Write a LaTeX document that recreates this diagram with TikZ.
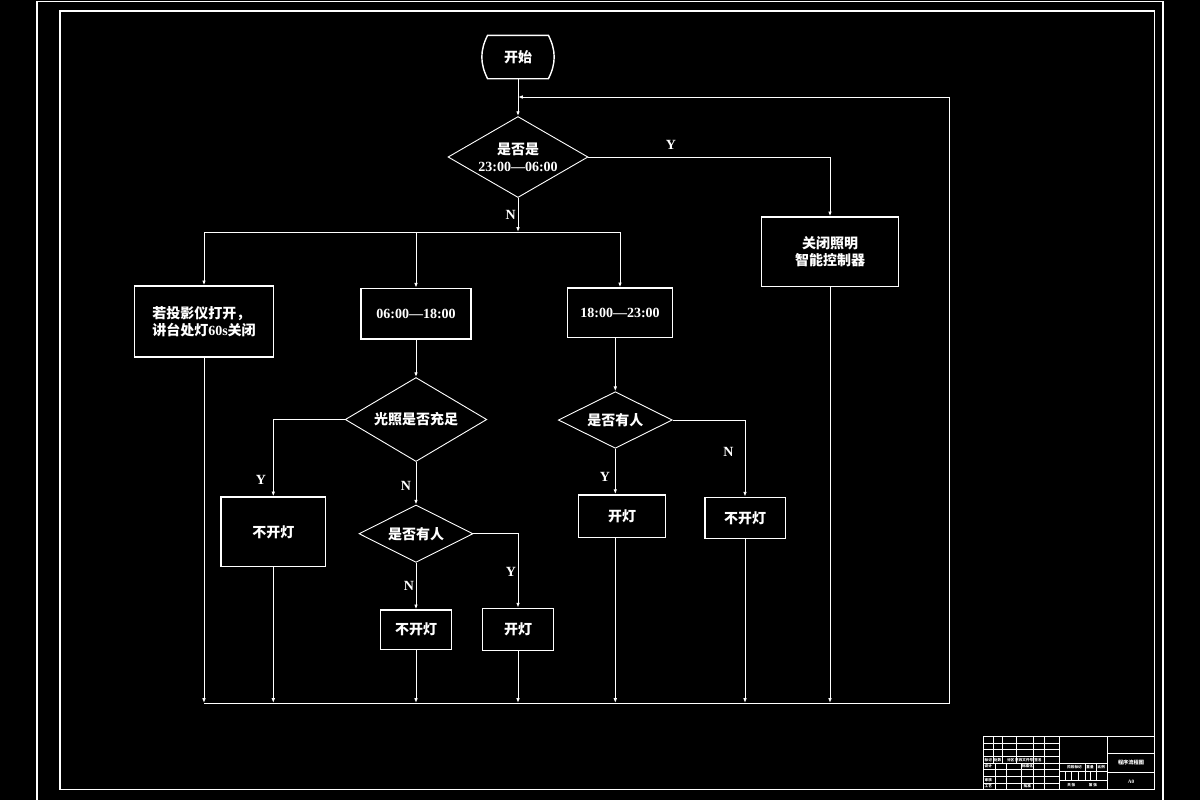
\documentclass[tikz,border=0pt]{standalone}
\usepackage{fontspec}
\setmainfont{Liberation Serif}
\newfontfamily\cjkfam{Noto Sans CJK SC}
\newcommand\cjk{\cjkfam\bfseries}
\usetikzlibrary{arrows.meta,shapes.geometric}
\newcommand\fz{\fontsize{7}{8.5}\selectfont\bfseries}
\newcommand\fzt{\fontsize{1.8}{2}\selectfont}

\tikzset{
	box/.style={draw=white, line width=0.7pt, text=white, inner sep=0pt, align=center, font=\fz},
	decision/.style={diamond, draw=white, line width=0.45pt, text=white, inner sep=0pt, align=center, font=\fz},
	flow/.style={draw=white, line width=0.5pt},
	arr/.style={flow, -{Latex[length=2.4pt,width=1.8pt]}},
	tag/.style={text=white, font=\fz, inner sep=0pt},
	frame/.style={draw=white, line width=0.75pt},
	grid/.style={draw=white, line width=0.4pt},
	tbtext/.style={text=white, font=\fzt\cjk, inner sep=0pt}
}

\begin{document}
\begin{tikzpicture}[x=0.5pt, y=-0.5pt]
			%%%%% START %%%%%
			\useasboundingbox (0, 0) rectangle (1200, 800);
			\fill[black] (0, 0) rectangle (1200, 800);
			
			\draw[frame] (37, 1.5) rectangle (1163, 812);
			\draw[frame] (60, 11) rectangle (1154.5, 789.5);
			
			% start and first question
			\node[box, draw=none, minimum width=29.7pt, minimum height=21pt] (start) at (518, 57) {\cjk 开始};
			\draw[box] (start.north west) -- (start.north east) to[bend left=27] (start.south east) -- (start.south west) to[bend left=27] (start.north west) -- cycle;
			\node[decision, aspect=1.73, minimum width=70pt, minimum height=40.5pt] (dTime) at (518, 157) {{\cjk 是否是}\\23:00—06:00};
			
			% boxes
			\node[box, minimum width=69.5pt, minimum height=35.5pt, align=left] (bLecture) at (204, 321.5) {\fontsize{7}{10}\selectfont{\cjk 若投影仪打开，}\\{\cjk 讲台处灯}60s{\cjk 关闭}};
			\node[box, minimum width=55pt, minimum height=25.3pt] (bDay) at (416, 313.7) {06:00—18:00};
			\node[box, minimum width=52.7pt, minimum height=24.7pt] (bEve) at (620, 312.7) {18:00—23:00};
			\node[box, minimum width=68.7pt, minimum height=34.8pt] (bClose) at (830, 251.8) {\fontsize{7}{9.3}\selectfont{\cjk 关闭照明}\\{\cjk 智能控制器}};
			
			\node[decision, aspect=1.69, minimum width=70.8pt, minimum height=42pt] (dLight) at (416, 419.5) {\cjk 光照是否充足};
			\node[box, minimum width=52.3pt, minimum height=34.8pt] (bNoA) at (273.3, 531.8) {\cjk 不开灯};
			\node[decision, aspect=2, minimum width=57pt, minimum height=28.7pt] (dPeopleA) at (416, 533.7) {\cjk 是否有人};
			\node[box, minimum width=35.5pt, minimum height=19.7pt] (bNoB) at (416, 629.7) {\cjk 不开灯};
			\node[box, minimum width=35.5pt, minimum height=21pt] (bOnA) at (518, 629.3) {\cjk 开灯};
			
			\node[decision, aspect=2, minimum width=57pt, minimum height=28.3pt] (dPeopleB) at (615.3, 420) {\cjk 是否有人};
			\node[box, minimum width=43.7pt, minimum height=21.2pt] (bOnB) at (622, 516) {\cjk 开灯};
			\node[box, minimum width=40.2pt, minimum height=20.5pt] (bNoC) at (745, 517.8) {\cjk 不开灯};
			
			% Y / N
			\node[tag] (tY1) at (671, 145) {Y};
			\node[tag] (tN1) at (510.7, 215) {N};
			\node[tag] (tY2) at (261, 480) {Y};
			\node[tag] (tN2) at (406, 486) {N};
			\node[tag] (tN3) at (409, 586) {N};
			\node[tag] (tY3) at (511, 571.7) {Y};
			\node[tag] (tY4) at (605, 477.3) {Y};
			\node[tag] (tN4) at (728.3, 452.3) {N};
			
			% connectors
			\coordinate (busTop) at (518, 232);
			\coordinate (splitL) at (204, 232);
			\coordinate (splitR) at (620, 232);
			\coordinate (joinL) at (204, 703);
			\coordinate (joinR) at (949, 703);
			\coordinate (loopTop) at (949, 97);
			\coordinate (loopIn) at (518, 97);
			
			\draw[arr] (start) -- (dTime);
			\draw[arr] (dTime) -- (busTop);
			\draw[flow] (splitL) -- (splitR);
			\draw[arr] (splitL) -- (bLecture);
			\draw[arr] (bDay.north |- splitL) -- (bDay);
			\draw[arr] (splitR) -- (bEve);
			\draw[arr] (dTime.east) -| (bClose.north);
			
			\draw[arr] (bDay) -- (dLight);
			\draw[arr] (dLight.west) -| (bNoA.north);
			\draw[arr] (dLight) -- (dPeopleA);
			\draw[arr] (dPeopleA) -- (bNoB);
			\draw[arr] (dPeopleA.east) -| (bOnA.north);
			
			\draw[arr] (bEve.south -| dPeopleB) -- (dPeopleB);
			\draw[arr] (dPeopleB) -- (dPeopleB |- bOnB.north);
			\draw[arr] (dPeopleB.east) -| (bNoC.north);
			
			\draw[arr] (bLecture) -- (joinL);
			\draw[arr] (bNoA) -- (bNoA |- joinL);
			\draw[arr] (bNoB) -- (bNoB |- joinL);
			\draw[arr] (bOnA) -- (bOnA |- joinL);
			\draw[arr] (bOnB.south -| dPeopleB) -- (dPeopleB |- joinL);
			\draw[arr] (bNoC) -- (bNoC |- joinL);
			\draw[arr] (bClose) -- (bClose |- joinL);
			\draw[arr] (joinL) -- (joinR) -- (loopTop) -- (loopIn);
			
			% title block
			\draw[grid] (983.3, 736.3) rectangle (1154.5, 789.5);
			\foreach \y in {743, 749.7, 756.3, 763, 769.7, 776.3, 783}
				\draw[grid] (983.3, \y) -- (1059.3, \y);
			\foreach \x in {993.3, 1002.3, 1016.7}
				\draw[grid] (\x, 736.3) -- (\x, 763);
			\foreach \x in {995.7, 1006.7, 1021.7}
				\draw[grid] (\x, 763) -- (\x, 789.5);
			\foreach \x in {1033.3, 1044.3, 1059.3, 1107.3}
				\draw[grid] (\x, 736.3) -- (\x, 789.5);
			\foreach \y in {763.3, 771.7, 780}
				\draw[grid] (1059.3, \y) -- (1107.3, \y);
			\foreach \x in {1085, 1096.7}
				\draw[grid] (\x, 763.3) -- (\x, 771.7);
			\foreach \x in {1065.7, 1071.7, 1078.3, 1085, 1090.7, 1096.7}
				\draw[grid] (\x, 771.7) -- (\x, 780);
			\draw[grid] (1107.3, 753.3) -- (1154.5, 753.3);
			\draw[grid] (1107.3, 772.3) -- (1154.5, 772.3);
			
			\foreach \t/\x/\y [count=\i] in {标记/988.3/759.7, 处数/997.5/759.7, 分区/1010.7/759.7, 更改文件号/1024.2/759.7, 签名/1038/759.7,
				设计/988.3/766.3, 标准化/1027.5/766.3, 审核/988.3/779.7, 工艺/988.3/786.2, 批准/1027.3/786.2,
				阶段标记/1074.5/767.5, 重量/1090/767.5, 比例/1101.3/767.5, 共\ 张/1071.3/784.7, 第\ 张/1093/784.7}
				\node[tbtext] (tb\i) at (\x, \y) {\t};
			\node[tbtext, font=\fontsize{2.6}{3}\selectfont\cjk] (tbName) at (1131, 762.7) {程序流程图};
			\node[tbtext, font=\fontsize{2.6}{3}\selectfont\bfseries] (tbCode) at (1131, 781.7) {A0};
			
			%%%%% END %%%%%
\end{tikzpicture}
\end{document}
